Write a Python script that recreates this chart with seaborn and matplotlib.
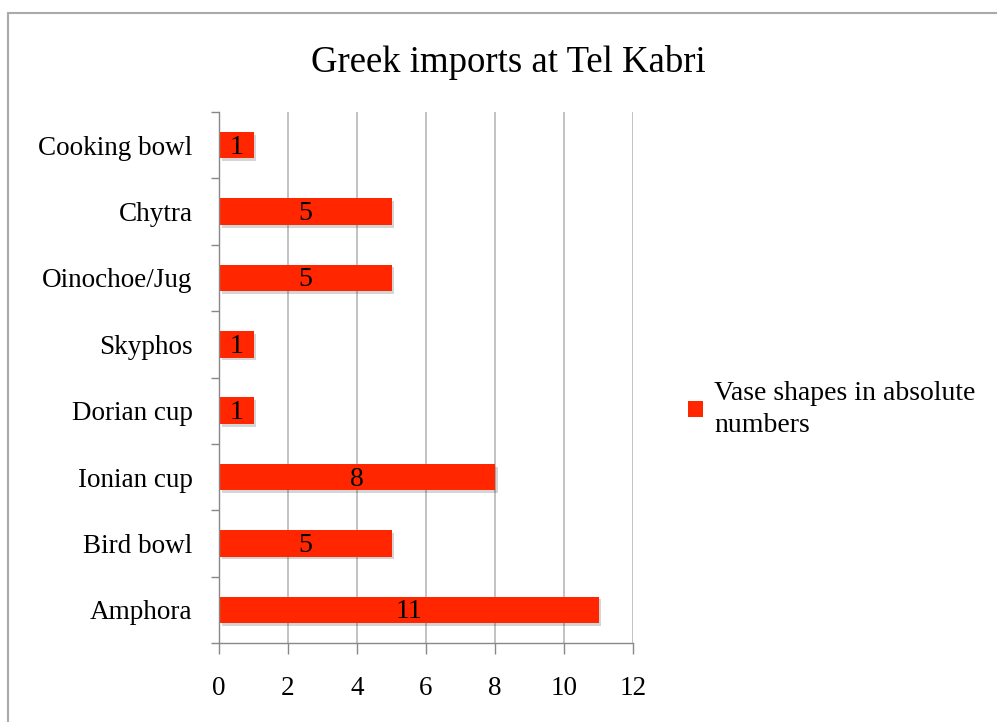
import matplotlib
matplotlib.use("Agg")
import matplotlib.pyplot as plt
import seaborn as sns
import pandas as pd
from matplotlib.patches import Patch
from matplotlib.lines import Line2D
import matplotlib.patheffects as pe

categories = ["Cooking bowl", "Chytra", "Oinochoe/Jug", "Skyphos",
              "Dorian cup", "Ionian cup", "Bird bowl", "Amphora"]
values = [1, 5, 5, 1, 1, 8, 5, 11]
series_name = "Vase shapes in absolute numbers"
title = "Greek imports at Tel Kabri"
xticks = [0, 2, 4, 6, 8, 10, 12]

sns.set_theme(style="white")
plt.rcParams['font.family'] = ['Liberation Serif', 'DejaVu Serif']
plt.rcParams['text.color'] = 'black'
plt.rcParams['xtick.color'] = '#888888'
plt.rcParams['ytick.color'] = '#888888'
plt.rcParams['xtick.labelcolor'] = 'black'
plt.rcParams['ytick.labelcolor'] = 'black'

df = pd.DataFrame({"category": categories, "value": values})

W, H = 997, 722
fig = plt.figure(figsize=(W / 100, H / 100), dpi=100)
ax = fig.add_axes([219 / W, 1 - 643 / H, (633 - 219) / W, (643 - 112) / H])

color = "#FF2600"
sns.barplot(data=df, y="category", x="value", order=categories, color=color,
            saturation=1, width=0.4, ax=ax, orient="h")

for p in ax.patches:
    p.set_path_effects([pe.SimplePatchShadow(offset=(2, -2), alpha=0.18, shadow_rgbFace="k"), pe.Normal()])
    p.set_edgecolor("none")

for i, v in enumerate(values):
    ax.text(v / 2, i + 0.03, str(v), ha="center", va="center", fontsize=20, color="black")

ax.set_xlim(0, 12)
ax.set_ylim(7.5, -0.5)
ax.set_xticks(xticks)
ax.set_xticklabels([str(t) for t in xticks], fontsize=19.5)
ax.set_yticks(range(len(categories)))
ax.set_yticklabels(categories, fontsize=19.5)
ax.tick_params(axis="y", which="major", left=True, length=0, pad=19)
ax.set_yticks([i - 0.5 for i in range(len(categories) + 1)], minor=True)
ax.tick_params(axis="y", which="minor", left=True, length=6, color="#888888", width=1, direction="out")
ax.tick_params(axis="x", which="major", bottom=True, length=8, color="#888888", width=1, direction="out", pad=16)
ax.set_xlabel("")
ax.set_ylabel("")
ax.xaxis.grid(True, color="#b8b8b8", linewidth=1.2)
ax.set_axisbelow(True)
for s in ["top", "right"]:
    ax.spines[s].set_visible(False)
for s in ["left", "bottom"]:
    ax.spines[s].set_color("#888888")
    ax.spines[s].set_linewidth(1)

fig.text(508 / W, 1 - 62 / H, title, ha="center", va="center", fontsize=26.5)

leg = fig.legend(handles=[Patch(facecolor=color, edgecolor="none")],
                 labels=["Vase shapes in absolute\nnumbers"],
                 loc="upper left", bbox_to_anchor=(688 / W, 1 - 381 / H),
                 frameon=False, fontsize=20, handlelength=0.55, handleheight=0.55,
                 handletextpad=0.4, borderaxespad=0, borderpad=0)
for t in leg.get_texts():
    t.set_linespacing(1.35)

# outer frame
fig.add_artist(Line2D([8 / W, 8 / W], [0, 1 - 13 / H], color="#aaaaaa", lw=1.5, transform=fig.transFigure))
fig.add_artist(Line2D([8 / W, 1], [1 - 13 / H, 1 - 13 / H], color="#aaaaaa", lw=1.5, transform=fig.transFigure))

fig.savefig("out.png", dpi=100)
